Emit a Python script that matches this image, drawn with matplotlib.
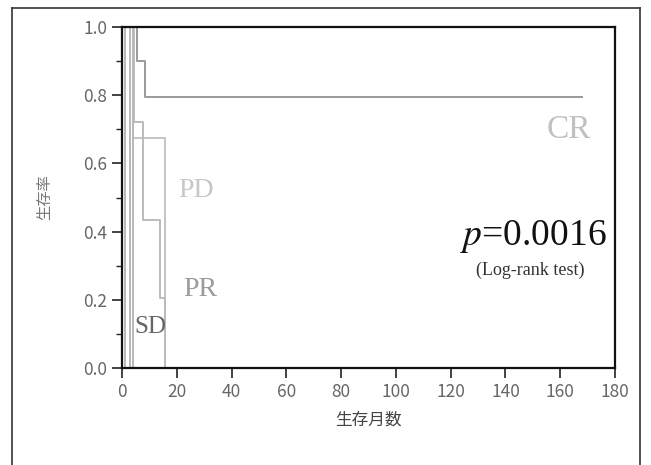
import numpy as np
import matplotlib
matplotlib.use("Agg")
import matplotlib.pyplot as plt
from matplotlib.lines import Line2D
from matplotlib.ticker import MultipleLocator

plt.rcParams['font.family'] = ['Noto Sans CJK JP', 'DejaVu Sans']
plt.rcParams['mathtext.fontset'] = 'stix'

# step curves: drop times (months) and survival after each drop
cr_t = [0, 5.5, 8.4, 168]
cr_s = [1.0, 0.90, 0.795, 0.795]

pd_t = [0, 4.0, 15.7, 15.7]
pd_s = [1.0, 0.675, 0.0, 0.0]

pr_t = [0, 4.5, 7.7, 13.9, 15.7, 15.7]
pr_s = [1.0, 0.72, 0.434, 0.205, 0.0, 0.0]

# short survivors (SD group and early deaths)
sd_drops = [1.2, 2.8, 4.0]

xticks = [0, 20, 40, 60, 80, 100, 120, 140, 160, 180]
yticks = [0.0, 0.2, 0.4, 0.6, 0.8, 1.0]

fig = plt.figure(figsize=(6.51, 4.65), dpi=100)
ax = fig.add_axes([0.1874, 0.2086, 0.7573, 0.7333])

ax.step(cr_t, cr_s, where='post', color='#9a9a9a', lw=1.4)
ax.step(pd_t, pd_s, where='post', color='#c4c4c4', lw=1.4)
ax.step(pr_t, pr_s, where='post', color='#bbbbbb', lw=1.4)
for t in sd_drops:
    ax.plot([t, t], [1.0, 0.0], color='#b8b8b8', lw=1.4)

ax.set_xlim(0, 180)
ax.set_ylim(0, 1.0)
ax.set_xticks(xticks)
ax.set_yticks(yticks)
ax.set_yticklabels(['%.1f' % v for v in yticks])
ax.yaxis.set_minor_locator(MultipleLocator(0.1))
ax.tick_params(axis='both', which='major', direction='out', length=7, width=1.2,
               labelsize=12.5, labelcolor='#666666', color='#222222')
ax.tick_params(axis='y', which='minor', direction='out', length=4, width=1, color='#222222')
for s in ax.spines.values():
    s.set_linewidth(1.6)
    s.set_color('#111111')

ax.set_xlabel('生存月数', fontsize=12, color='#444444', labelpad=8)
ax.set_ylabel('生存率', fontsize=11, color='#777777', labelpad=22)

serif = ['Liberation Serif', 'DejaVu Serif']
ax.text(163, 0.70, 'CR', fontsize=24, family=serif, color='#c0c0c0', ha='center', va='center')
ax.text(27, 0.52, 'PD', fontsize=20, family=serif, color='#c8c8c8', ha='center', va='center')
ax.text(28.5, 0.23, 'PR', fontsize=20, family=serif, color='#9a9a9a', ha='center', va='center')
ax.text(10.5, 0.12, 'SD', fontsize=18, family=serif, color='#666666', ha='center', va='center')
ax.text(177, 0.385, r'$p$=0.0016', fontsize=27, family=serif, color='#111111',
        ha='right', va='center')
ax.text(149, 0.285, '(Log-rank test)', fontsize=13, family=serif, color='#333333',
        ha='center', va='center')

# outer frame
x0, x1, y1 = 12 / 651, 640 / 651, 1 - 8 / 465
fig.add_artist(Line2D([x0, x0], [0, y1], color='#333333', lw=1.2))
fig.add_artist(Line2D([x0, x1], [y1, y1], color='#333333', lw=1.2))
fig.add_artist(Line2D([x1, x1], [y1, 0], color='#333333', lw=1.2))

fig.savefig('out.png', dpi=100)
